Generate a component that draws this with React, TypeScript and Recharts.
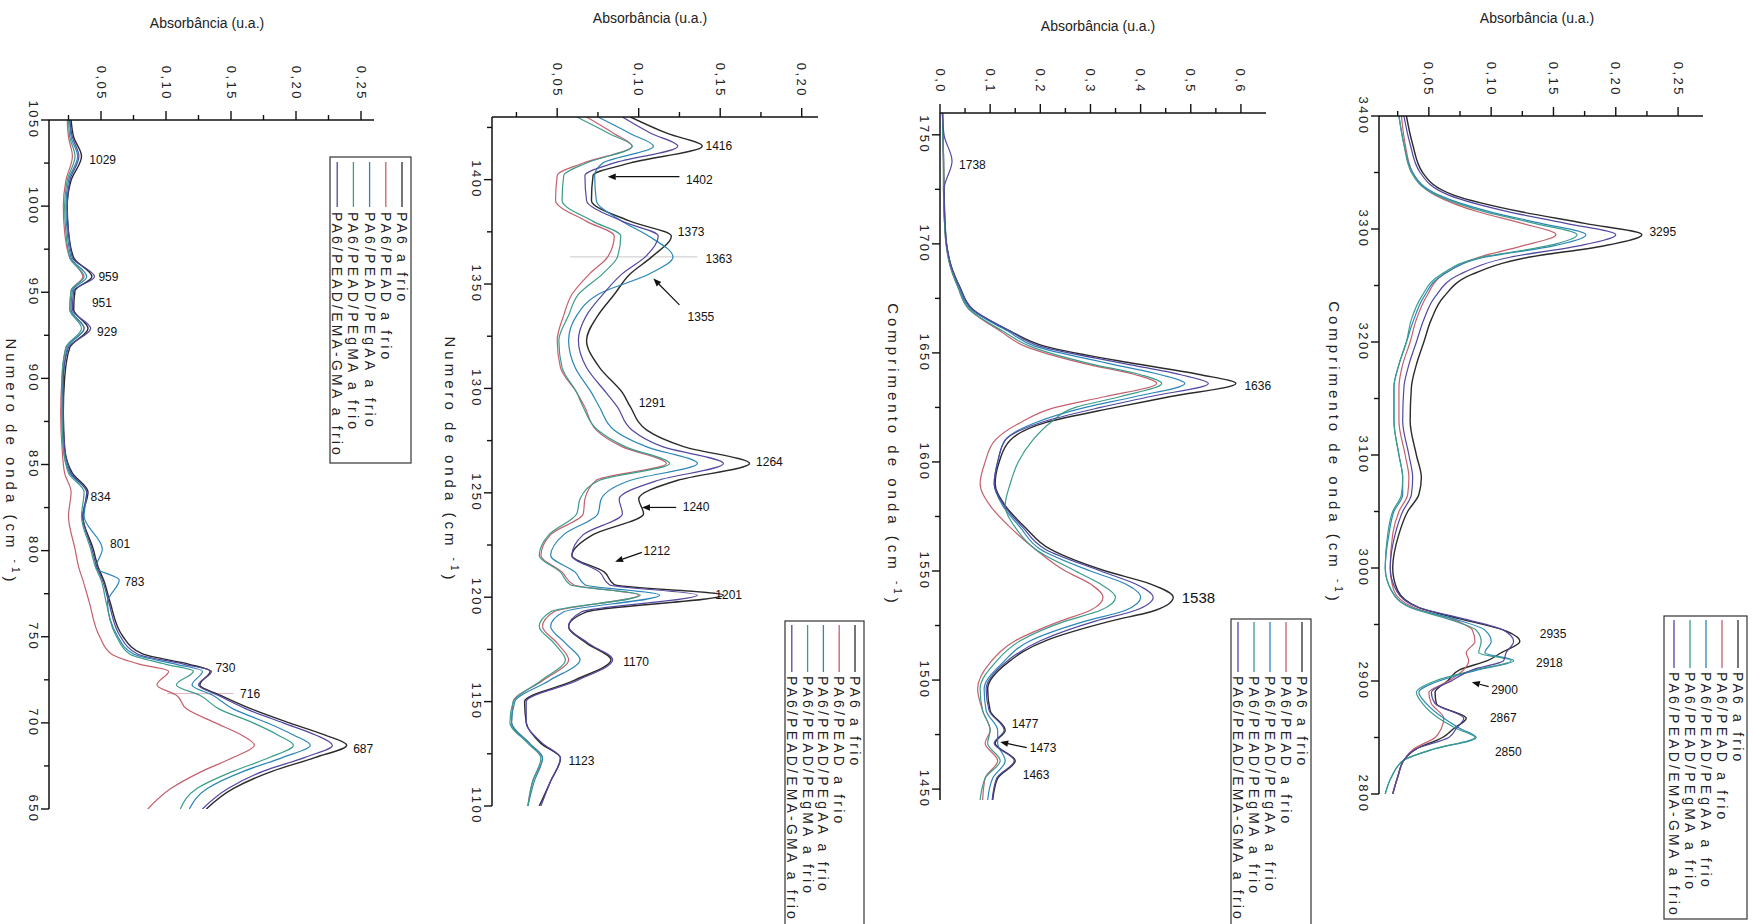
import React from "react";
import { LineChart, Line, XAxis, YAxis, ReferenceDot, ReferenceLine } from "recharts";

const FONT = "'Liberation Sans', Arial, Helvetica, sans-serif";

const seriesNames = [
  "PA6 a frio",
  "PA6/PEAD a frio",
  "PA6/PEAD/PEgAA a frio",
  "PA6/PEAD/PEgMA a frio",
  "PA6/PEAD/EMA-GMA a frio",
];
const seriesColors = ["#2b2b2b", "#c4606e", "#2a86b8", "#3a9c8a", "#5048a0"];

// ---- panel 1: 1050 - 650 cm-1
const p1Wn = [1050, 1040, 1029, 1015, 1000, 985, 970, 959, 951, 940, 929, 918, 900, 880, 860, 845, 834, 820, 801, 790, 783, 770, 750, 740, 734, 730, 722, 716, 708, 700, 693, 687, 680, 672, 662, 650];
const p1Pa6 = [0.027, 0.029, 0.035, 0.027, 0.024, 0.025, 0.029, 0.043, 0.030, 0.029, 0.040, 0.026, 0.022, 0.021, 0.022, 0.028, 0.040, 0.036, 0.044, 0.048, 0.052, 0.057, 0.067, 0.082, 0.118, 0.134, 0.126, 0.142, 0.166, 0.195, 0.222, 0.239, 0.215, 0.182, 0.152, 0.131];
const p1Pead = [0.024, 0.025, 0.028, 0.023, 0.021, 0.022, 0.026, 0.036, 0.027, 0.026, 0.037, 0.023, 0.020, 0.019, 0.020, 0.022, 0.027, 0.025, 0.030, 0.033, 0.036, 0.041, 0.049, 0.058, 0.080, 0.102, 0.093, 0.108, 0.116, 0.138, 0.158, 0.168, 0.152, 0.128, 0.104, 0.086];
const p1Pegaa = [0.026, 0.027, 0.032, 0.025, 0.023, 0.024, 0.027, 0.039, 0.028, 0.027, 0.037, 0.024, 0.021, 0.020, 0.021, 0.026, 0.039, 0.037, 0.051, 0.046, 0.064, 0.055, 0.063, 0.075, 0.108, 0.128, 0.120, 0.136, 0.152, 0.178, 0.198, 0.211, 0.190, 0.160, 0.132, 0.118];
const p1Pegma = [0.025, 0.026, 0.030, 0.024, 0.022, 0.023, 0.026, 0.037, 0.027, 0.026, 0.035, 0.023, 0.020, 0.020, 0.021, 0.025, 0.037, 0.035, 0.042, 0.046, 0.050, 0.054, 0.062, 0.072, 0.100, 0.121, 0.108, 0.126, 0.141, 0.167, 0.186, 0.198, 0.180, 0.152, 0.124, 0.111];
const p1Emagma = [0.026, 0.028, 0.033, 0.026, 0.024, 0.025, 0.028, 0.045, 0.029, 0.028, 0.042, 0.025, 0.021, 0.021, 0.022, 0.027, 0.039, 0.036, 0.043, 0.047, 0.051, 0.056, 0.065, 0.078, 0.114, 0.135, 0.125, 0.140, 0.162, 0.190, 0.215, 0.228, 0.207, 0.175, 0.148, 0.128];
const p1XTicks = [0.025, 0.05, 0.075, 0.1, 0.125, 0.15, 0.175, 0.2, 0.225, 0.25];
const p1YTicks = [650, 675, 700, 725, 750, 775, 800, 825, 850, 875, 900, 925, 950, 975, 1000, 1025, 1050];
const p1Peaks = [
  { text: "1029", x: 0.041, y: 1027 },
  { text: "959", x: 0.048, y: 959 },
  { text: "951", x: 0.043, y: 944 },
  { text: "929", x: 0.047, y: 927 },
  { text: "834", x: 0.042, y: 831 },
  { text: "801", x: 0.057, y: 804 },
  { text: "783", x: 0.068, y: 782 },
  { text: "730", x: 0.138, y: 732 },
  { text: "716", x: 0.157, y: 717 },
  { text: "687", x: 0.244, y: 685 },
];

// ---- panel 2: 1430 - 1100 cm-1
const p2Wn = [1430, 1422, 1416, 1408, 1402, 1390, 1380, 1373, 1363, 1355, 1345, 1335, 1323, 1310, 1298, 1291, 1280, 1272, 1264, 1256, 1247, 1240, 1230, 1220, 1212, 1206, 1201, 1193, 1186, 1178, 1170, 1160, 1150, 1140, 1130, 1123, 1112, 1100];
const p2Pa6 = [0.095, 0.118, 0.139, 0.095, 0.072, 0.071, 0.095, 0.120, 0.108, 0.095, 0.085, 0.075, 0.068, 0.076, 0.090, 0.095, 0.105, 0.128, 0.168, 0.124, 0.100, 0.103, 0.072, 0.059, 0.079, 0.085, 0.152, 0.068, 0.057, 0.068, 0.083, 0.060, 0.030, 0.031, 0.040, 0.052, 0.046, 0.039];
const p2Pead = [0.068, 0.085, 0.096, 0.066, 0.050, 0.049, 0.068, 0.085, 0.081, 0.070, 0.059, 0.054, 0.050, 0.052, 0.062, 0.067, 0.074, 0.090, 0.117, 0.074, 0.067, 0.066, 0.046, 0.040, 0.053, 0.060, 0.100, 0.048, 0.041, 0.050, 0.057, 0.041, 0.023, 0.022, 0.033, 0.041, 0.035, 0.032];
const p2Pegaa = [0.075, 0.095, 0.109, 0.078, 0.073, 0.074, 0.090, 0.106, 0.121, 0.107, 0.075, 0.062, 0.057, 0.061, 0.071, 0.076, 0.085, 0.105, 0.136, 0.095, 0.077, 0.075, 0.054, 0.046, 0.061, 0.067, 0.113, 0.054, 0.046, 0.055, 0.064, 0.045, 0.024, 0.022, 0.033, 0.041, 0.036, 0.032];
const p2Pegma = [0.062, 0.082, 0.096, 0.068, 0.054, 0.053, 0.072, 0.089, 0.087, 0.078, 0.063, 0.057, 0.051, 0.053, 0.062, 0.066, 0.075, 0.092, 0.119, 0.076, 0.064, 0.062, 0.045, 0.039, 0.052, 0.058, 0.101, 0.046, 0.039, 0.048, 0.055, 0.040, 0.023, 0.021, 0.032, 0.040, 0.035, 0.032];
const p2Emagma = [0.090, 0.108, 0.124, 0.085, 0.067, 0.068, 0.090, 0.112, 0.104, 0.090, 0.078, 0.068, 0.063, 0.068, 0.080, 0.087, 0.096, 0.115, 0.152, 0.112, 0.088, 0.090, 0.066, 0.059, 0.076, 0.082, 0.136, 0.065, 0.057, 0.069, 0.084, 0.062, 0.031, 0.031, 0.041, 0.052, 0.046, 0.040];
const p2XTicks = [0.025, 0.05, 0.075, 0.1, 0.125, 0.15, 0.175, 0.2];
const p2YTicks = [1100, 1125, 1150, 1175, 1200, 1225, 1250, 1275, 1300, 1325, 1350, 1375, 1400, 1425];
const p2Peaks = [
  { text: "1416", x: 0.141, y: 1416 },
  { text: "1402", x: 0.129, y: 1400 },
  { text: "1373", x: 0.124, y: 1375 },
  { text: "1363", x: 0.141, y: 1362 },
  { text: "1355", x: 0.13, y: 1334 },
  { text: "1291", x: 0.1, y: 1293 },
  { text: "1264", x: 0.172, y: 1265 },
  { text: "1240", x: 0.127, y: 1243 },
  { text: "1212", x: 0.103, y: 1222 },
  { text: "1201", x: 0.147, y: 1201 },
  { text: "1170", x: 0.0905, y: 1169 },
  { text: "1123", x: 0.057, y: 1121.5 },
];
const p2Arrows = [
  { x1: 0.125, y1: 1401.4, x2: 0.081, y2: 1401.4 },
  { x1: 0.125, y1: 1340, x2: 0.109, y2: 1352.6 },
  { x1: 0.123, y1: 1243, x2: 0.102, y2: 1243 },
  { x1: 0.102, y1: 1221.5, x2: 0.0855, y2: 1217 },
];

// ---- panel 3: 1760 - 1445 cm-1
const p3Wn = [1760, 1750, 1738, 1725, 1710, 1700, 1690, 1680, 1670, 1660, 1653, 1645, 1640, 1636, 1630, 1625, 1618, 1610, 1600, 1590, 1580, 1570, 1560, 1550, 1544, 1538, 1532, 1527, 1518, 1508, 1496, 1486, 1477, 1471, 1463, 1455, 1445];
const p3Pa6 = [0.005, 0.006, 0.007, 0.008, 0.010, 0.013, 0.022, 0.040, 0.065, 0.140, 0.210, 0.390, 0.520, 0.590, 0.460, 0.350, 0.210, 0.140, 0.118, 0.110, 0.130, 0.170, 0.220, 0.330, 0.420, 0.465, 0.430, 0.340, 0.210, 0.135, 0.095, 0.100, 0.130, 0.110, 0.150, 0.115, 0.105];
const p3Pead = [0.005, 0.006, 0.007, 0.007, 0.009, 0.012, 0.020, 0.036, 0.058, 0.120, 0.170, 0.290, 0.390, 0.432, 0.330, 0.230, 0.160, 0.110, 0.090, 0.080, 0.100, 0.140, 0.190, 0.250, 0.300, 0.325, 0.300, 0.240, 0.150, 0.100, 0.075, 0.085, 0.100, 0.090, 0.115, 0.090, 0.085];
const p3Pegaa = [0.005, 0.006, 0.007, 0.007, 0.009, 0.013, 0.021, 0.038, 0.062, 0.135, 0.190, 0.340, 0.440, 0.488, 0.390, 0.290, 0.190, 0.130, 0.115, 0.108, 0.125, 0.160, 0.200, 0.300, 0.370, 0.400, 0.370, 0.290, 0.180, 0.125, 0.088, 0.092, 0.115, 0.115, 0.130, 0.105, 0.095];
const p3Pegma = [0.005, 0.006, 0.007, 0.007, 0.009, 0.012, 0.020, 0.036, 0.058, 0.125, 0.180, 0.300, 0.400, 0.442, 0.360, 0.270, 0.220, 0.185, 0.156, 0.140, 0.130, 0.150, 0.190, 0.270, 0.320, 0.350, 0.320, 0.250, 0.160, 0.110, 0.080, 0.085, 0.100, 0.095, 0.120, 0.090, 0.080];
const p3Emagma = [0.005, 0.008, 0.024, 0.008, 0.010, 0.013, 0.022, 0.040, 0.065, 0.140, 0.200, 0.370, 0.480, 0.535, 0.420, 0.320, 0.200, 0.130, 0.115, 0.108, 0.128, 0.165, 0.210, 0.320, 0.390, 0.425, 0.390, 0.310, 0.200, 0.130, 0.092, 0.098, 0.128, 0.108, 0.148, 0.113, 0.104];
const p3XTicks = [0, 0.05, 0.1, 0.15, 0.2, 0.25, 0.3, 0.35, 0.4, 0.45, 0.5, 0.55, 0.6];
const p3YTicks = [1450, 1475, 1500, 1525, 1550, 1575, 1600, 1625, 1650, 1675, 1700, 1725, 1750];
const p3Peaks = [
  { text: "1738", x: 0.038, y: 1736 },
  { text: "1636", x: 0.607, y: 1635 },
  { text: "1538", x: 0.482, y: 1538, big: true },
  { text: "1477", x: 0.143, y: 1480 },
  { text: "1473", x: 0.179, y: 1469 },
  { text: "1463", x: 0.165, y: 1456.4 },
];
const p3Arrows = [{ x1: 0.173, y1: 1469, x2: 0.12, y2: 1471.6 }];

// ---- panel 4: 3400 - 2800 cm-1
const p4Wn = [3400, 3375, 3350, 3330, 3315, 3305, 3295, 3285, 3275, 3260, 3240, 3220, 3200, 3180, 3160, 3130, 3100, 3080, 3065, 3050, 3030, 3000, 2980, 2965, 2955, 2945, 2935, 2925, 2918, 2910, 2900, 2890, 2880, 2867, 2858, 2850, 2840, 2830, 2815, 2800];
const p4Pa6 = [0.032, 0.037, 0.045, 0.070, 0.125, 0.175, 0.221, 0.190, 0.130, 0.085, 0.062, 0.052, 0.046, 0.040, 0.036, 0.035, 0.040, 0.044, 0.042, 0.033, 0.026, 0.021, 0.025, 0.042, 0.075, 0.110, 0.123, 0.108, 0.097, 0.075, 0.065, 0.055, 0.056, 0.080, 0.070, 0.061, 0.040, 0.030, 0.025, 0.021];
const p4Pead = [0.028, 0.031, 0.037, 0.055, 0.090, 0.125, 0.152, 0.125, 0.090, 0.062, 0.048, 0.040, 0.035, 0.029, 0.026, 0.026, 0.031, 0.034, 0.033, 0.026, 0.021, 0.019, 0.022, 0.038, 0.068, 0.085, 0.087, 0.080, 0.082, 0.078, 0.066, 0.050, 0.052, 0.062, 0.060, 0.055, 0.038, 0.030, 0.025, 0.021];
const p4Pegaa = [0.026, 0.030, 0.037, 0.058, 0.100, 0.140, 0.176, 0.150, 0.095, 0.062, 0.046, 0.038, 0.032, 0.026, 0.022, 0.022, 0.026, 0.029, 0.029, 0.022, 0.018, 0.015, 0.020, 0.036, 0.070, 0.095, 0.100, 0.095, 0.118, 0.090, 0.058, 0.042, 0.048, 0.062, 0.075, 0.088, 0.055, 0.030, 0.020, 0.015];
const p4Pegma = [0.026, 0.030, 0.036, 0.056, 0.096, 0.135, 0.169, 0.145, 0.092, 0.060, 0.044, 0.036, 0.032, 0.026, 0.022, 0.022, 0.026, 0.029, 0.028, 0.021, 0.017, 0.015, 0.020, 0.035, 0.065, 0.088, 0.092, 0.090, 0.116, 0.088, 0.055, 0.040, 0.045, 0.058, 0.072, 0.087, 0.054, 0.030, 0.020, 0.015];
const p4Emagma = [0.030, 0.035, 0.043, 0.066, 0.115, 0.160, 0.200, 0.170, 0.115, 0.075, 0.055, 0.046, 0.040, 0.034, 0.030, 0.029, 0.034, 0.037, 0.036, 0.029, 0.023, 0.019, 0.024, 0.042, 0.078, 0.110, 0.118, 0.112, 0.110, 0.085, 0.068, 0.052, 0.055, 0.078, 0.072, 0.066, 0.040, 0.030, 0.025, 0.021];
const p4XTicks = [0.025, 0.05, 0.075, 0.1, 0.125, 0.15, 0.175, 0.2, 0.225, 0.25];
const p4YTicks = [2800, 2850, 2900, 2950, 3000, 3050, 3100, 3150, 3200, 3250, 3300, 3350, 3400];
const p4Peaks = [
  { text: "3295", x: 0.227, y: 3297 },
  { text: "2935", x: 0.139, y: 2942 },
  { text: "2918", x: 0.136, y: 2916 },
  { text: "2900", x: 0.1, y: 2892 },
  { text: "2867", x: 0.099, y: 2867 },
  { text: "2850", x: 0.103, y: 2837 },
];
const p4Arrows = [{ x1: 0.098, y1: 2895, x2: 0.0845, y2: 2899 }];

type Peak = { text: string; x: number; y: number; big?: boolean };
type Arrow = { x1: number; y1: number; x2: number; y2: number };

const buildRows = (wn: number[], series: number[][]) =>
  wn.map((w, i) => {
    const row: Record<string, number> = { wn: w };
    series.forEach((s, k) => {
      row[`s${k}`] = s[i];
    });
    return row;
  });

const isMajor = (v: number, step: number) => Math.abs(v / step - Math.round(v / step)) < 1e-6;

const makeXTick = (step: number, digits: number) => (props: any) => {
  const { x, y, payload } = props;
  const v = payload.value as number;
  const major = isMajor(v, step);
  return (
    <g>
      <line x1={x} y1={y} x2={x} y2={y - (major ? 9 : 5)} stroke="#111" strokeWidth={1.4} />
      {major && (
        <text
          transform={`translate(${x},${y - 19}) rotate(90)`}
          textAnchor="end"
          dominantBaseline="central"
          fontSize={13}
          letterSpacing={2.5}
          fontFamily={FONT}
          fill="#222"
        >
          {v.toFixed(digits).replace(".", ",")}
        </text>
      )}
    </g>
  );
};

const makeYTick = (step: number) => (props: any) => {
  const { x, y, payload } = props;
  const v = payload.value as number;
  const major = isMajor(v, step);
  return (
    <g>
      <line x1={x} y1={y} x2={x - (major ? 8 : 5)} y2={y} stroke="#111" strokeWidth={1.4} />
      {major && (
        <text
          transform={`translate(${x - 16},${y}) rotate(90)`}
          textAnchor="middle"
          dominantBaseline="central"
          fontSize={13}
          letterSpacing={2.5}
          fontFamily={FONT}
          fill="#222"
        >
          {v}
        </text>
      )}
    </g>
  );
};

const arrowShape = (props: any) => {
  const { x1, y1, x2, y2 } = props;
  const a = Math.atan2(y2 - y1, x2 - x1);
  const len = 8;
  const w = 3.2;
  const bx = x2 - len * Math.cos(a);
  const by = y2 - len * Math.sin(a);
  const px = -Math.sin(a) * w;
  const py = Math.cos(a) * w;
  return (
    <g>
      <line x1={x1} y1={y1} x2={bx} y2={by} stroke="#111" strokeWidth={1.2} />
      <polygon points={`${x2},${y2} ${bx + px},${by + py} ${bx - px},${by - py}`} fill="#111" />
    </g>
  );
};

const panels = [
  {
    left: 0,
    margin: { top: 80, right: 66, bottom: 115, left: 9 },
    xDomain: [0.01, 0.26],
    xTicks: p1XTicks,
    xStep: 0.05,
    xDigits: 2,
    yDomain: [650, 1050],
    yTicks: p1YTicks,
    yStep: 50,
    wn: p1Wn,
    values: [p1Pa6, p1Pead, p1Pegaa, p1Pegma, p1Emagma],
    peaks: p1Peaks as Peak[],
    arrows: [] as Arrow[],
    faint: [{ x1: 0.101, y1: 717, x2: 0.152, y2: 717, c: "#e3b4bc" }],
  },
  {
    left: 440,
    margin: { top: 77, right: 62, bottom: 118, left: 12 },
    xDomain: [0.01, 0.21],
    xTicks: p2XTicks,
    xStep: 0.05,
    xDigits: 2,
    yDomain: [1100, 1430],
    yTicks: p2YTicks,
    yStep: 50,
    wn: p2Wn,
    values: [p2Pa6, p2Pead, p2Pegaa, p2Pegma, p2Emagma],
    peaks: p2Peaks as Peak[],
    arrows: p2Arrows,
    faint: [{ x1: 0.058, y1: 1363, x2: 0.136, y2: 1363, c: "#c8c8c8" }],
  },
  {
    left: 880,
    margin: { top: 73, right: 54, bottom: 124, left: 20 },
    xDomain: [0, 0.65],
    xTicks: p3XTicks,
    xStep: 0.1,
    xDigits: 1,
    yDomain: [1445, 1760],
    yTicks: p3YTicks,
    yStep: 50,
    wn: p3Wn,
    values: [p3Pa6, p3Pead, p3Pegaa, p3Pegma, p3Emagma],
    peaks: p3Peaks as Peak[],
    arrows: p3Arrows,
    faint: [],
  },
  {
    left: 1314,
    margin: { top: 76, right: 51, bottom: 130, left: 25 },
    xDomain: [0.01, 0.27],
    xTicks: p4XTicks,
    xStep: 0.05,
    xDigits: 2,
    yDomain: [2800, 3400],
    yTicks: p4YTicks,
    yStep: 100,
    wn: p4Wn,
    values: [p4Pa6, p4Pead, p4Pegaa, p4Pegma, p4Emagma],
    peaks: p4Peaks as Peak[],
    arrows: p4Arrows,
    faint: [],
  },
];

const titles = [
  { x: 207, y: 23, yt: 462, xt: 11, axis: "Numero de onda" },
  { x: 650, y: 18, yt: 460, xt: 450, axis: "Numero de onda" },
  { x: 1098, y: 26, yt: 455, xt: 893, axis: "Comprimento de onda" },
  { x: 1537, y: 18, yt: 453, xt: 1334, axis: "Comprimento de onda" },
];

const legends = [
  { box: [330, 157, 411, 463], first: 402, step: 16.2, lineTop: 162, lineBottom: 207, textTop: 212 },
  { box: [785, 621, 864, 940], first: 855, step: 15.8, lineTop: 625, lineBottom: 672, textTop: 676 },
  { box: [1231, 619, 1311, 940], first: 1302, step: 16, lineTop: 622, lineBottom: 672, textTop: 676 },
  { box: [1664, 616, 1747, 919], first: 1738, step: 16, lineTop: 620, lineBottom: 668, textTop: 672 },
];

function Panel({ cfg }: { cfg: (typeof panels)[number] }) {
  const rows = buildRows(cfg.wn, cfg.values);
  const axisLine = { stroke: "#111", strokeWidth: 1.5 };
  return (
    <div style={{ position: "absolute", left: cfg.left, top: 0 }}>
      <LineChart width={440} height={924} data={rows} layout="vertical" margin={cfg.margin}>
        <XAxis
          type="number"
          orientation="top"
          domain={cfg.xDomain}
          allowDataOverflow
          ticks={cfg.xTicks}
          interval={0}
          height={40}
          tickSize={0}
          tickMargin={0}
          tickLine={false}
          axisLine={axisLine}
          tick={makeXTick(cfg.xStep, cfg.xDigits)}
        />
        <YAxis
          type="number"
          dataKey="wn"
          domain={cfg.yDomain}
          allowDataOverflow
          reversed
          ticks={cfg.yTicks}
          interval={0}
          width={40}
          tickSize={0}
          tickMargin={0}
          tickLine={false}
          axisLine={axisLine}
          tick={makeYTick(cfg.yStep)}
        />
        {cfg.faint.map((f, i) => (
          <ReferenceLine
            key={`f${i}`}
            segment={[{ x: f.x1, y: f.y1 }, { x: f.x2, y: f.y2 }]}
            stroke={f.c}
            strokeWidth={1}
            ifOverflow="visible"
          />
        ))}
        {seriesNames.map((n, k) => (
          <Line
            key={n}
            dataKey={`s${k}`}
            name={n}
            type="monotone"
            stroke={seriesColors[k]}
            strokeWidth={k === 0 ? 1.4 : 1.2}
            dot={false}
            isAnimationActive={false}
          />
        ))}
        {cfg.arrows.map((a, i) => (
          <ReferenceLine
            key={`a${i}`}
            segment={[{ x: a.x1, y: a.y1 }, { x: a.x2, y: a.y2 }]}
            ifOverflow="visible"
            shape={arrowShape}
          />
        ))}
        {cfg.peaks.map((p) => (
          <ReferenceDot
            key={p.text}
            x={p.x}
            y={p.y}
            r={1}
            ifOverflow="visible"
            shape={(d: any) => (
              <text
                x={d.cx}
                y={d.cy}
                dominantBaseline="central"
                fontSize={p.big ? 15 : 12}
                fontFamily={FONT}
                fill="#111"
              >
                {p.text}
              </text>
            )}
          />
        ))}
      </LineChart>
    </div>
  );
}

export default function App() {
  return (
    <div style={{ position: "absolute", left: 0, top: 0, width: 1754, height: 924, background: "#fff", overflow: "hidden" }}>
      {panels.map((cfg, i) => (
        <Panel key={i} cfg={cfg} />
      ))}
      <svg width={1754} height={924} style={{ position: "absolute", left: 0, top: 0, pointerEvents: "none" }}>
        {titles.map((t, i) => (
          <g key={i} fontFamily={FONT} fill="#222">
            <text x={t.x} y={t.y} textAnchor="middle" dominantBaseline="central" fontSize={14}>
              Absorbância (u.a.)
            </text>
            <text
              transform={`translate(${t.xt},${t.yt}) rotate(90)`}
              textAnchor="middle"
              dominantBaseline="central"
              fontSize={15}
              letterSpacing={4}
            >
              {`${t.axis} (cm `}
              <tspan fontSize={10} dy={-5}>-1</tspan>
              <tspan dy={5}>)</tspan>
            </text>
          </g>
        ))}
        {legends.map((l, i) => (
          <g key={i} fontFamily={FONT}>
            <rect
              x={l.box[0]}
              y={l.box[1]}
              width={l.box[2] - l.box[0]}
              height={l.box[3] - l.box[1]}
              fill="#fff"
              stroke="#333"
              strokeWidth={1.2}
            />
            {seriesNames.map((n, k) => {
              const x = l.first - k * l.step;
              return (
                <g key={n}>
                  <line x1={x} y1={l.lineTop} x2={x} y2={l.lineBottom} stroke={seriesColors[k]} strokeWidth={1.3} />
                  <text
                    transform={`translate(${x},${l.textTop}) rotate(90)`}
                    textAnchor="start"
                    dominantBaseline="central"
                    fontSize={14}
                    letterSpacing={3.2}
                    fill="#222"
                  >
                    {n}
                  </text>
                </g>
              );
            })}
          </g>
        ))}
      </svg>
    </div>
  );
}
